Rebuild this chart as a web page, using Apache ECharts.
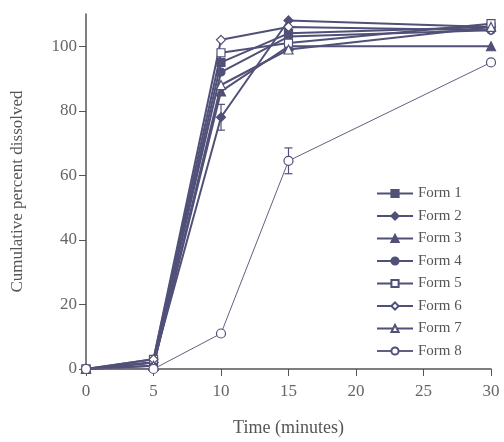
<!DOCTYPE html>
<html><head><meta charset="utf-8">
<script src="https://cdn.jsdelivr.net/npm/echarts@6/dist/echarts.min.js"></script>
<style>html,body{margin:0;padding:0;background:#fff}#c{width:504px;height:442px}</style>
</head><body><div id="c"></div>
<script>
const times = [0, 5, 10, 15, 30];
const xTicks = [0, 5, 10, 15, 20, 25, 30];
const yTicks = [0, 20, 40, 60, 80, 100];
const seriesNames = ['Form 1','Form 2','Form 3','Form 4','Form 5','Form 6','Form 7','Form 8'];
const form1 = [0, 2, 95, 104, 106];
const form2 = [0, 2, 78, 108, 106];
const form3 = [0, 1, 86, 100, 100];
const form4 = [0, 2, 92, 103, 105];
const form5 = [0, 3, 98, 101, 107];
const form6 = [0, 3, 102, 106, 105];
const form7 = [0, 1, 88, 99, 106];
const form8 = [0, 0, 11, 64.5, 95];
// error bars: [time, value, sd]
const errorBars = [[10, 78, 4], [15, 64.5, 4]];

const C = '#505078';
const symbols = ['rect','diamond','triangle','circle','rect','diamond','triangle','circle'];
const filled = [true,true,true,true,false,false,false,false];
const sizes = [8,9,9,8,8,9,9,9];
const allData = [form1,form2,form3,form4,form5,form6,form7,form8];

const series = allData.map((d, i) => ({
  name: seriesNames[i], type: 'line',
  data: d.map((v, j) => [times[j], v]),
  symbol: symbols[i], symbolSize: sizes[i],
  lineStyle: {color: i === 7 ? '#606080' : C, width: i === 7 ? 1 : 2},
  itemStyle: {color: filled[i] ? C : '#fff', borderColor: C, borderWidth: 1.2},
  z: i === 7 ? 3 : 2
}));
series.push({
  type: 'custom', name: 'err', silent: true, z: 1,
  data: errorBars,
  renderItem: function (params, api) {
    const x = api.value(0), v = api.value(1), s = api.value(2);
    const hi = api.coord([x, v + s]), lo = api.coord([x, v - s]);
    const w = 4;
    const st = {stroke: C, lineWidth: 1.2};
    return {type: 'group', children: [
      {type: 'line', shape: {x1: hi[0], y1: hi[1], x2: lo[0], y2: lo[1]}, style: st},
      {type: 'line', shape: {x1: hi[0]-w, y1: hi[1], x2: hi[0]+w, y2: hi[1]}, style: st},
      {type: 'line', shape: {x1: lo[0]-w, y1: lo[1], x2: lo[0]+w, y2: lo[1]}, style: st}
    ]};
  }
});

const font = '"Liberation Serif", "DejaVu Serif", serif';
const chart = echarts.init(document.getElementById('c'), null, {renderer: 'canvas'});
chart.setOption({
  backgroundColor: '#fff',
  animation: false,
  grid: {left: 86, right: 13, top: 14, bottom: 71, containLabel: false},
  legend: {
    data: seriesNames, orient: 'vertical', left: 371, top: 181,
    itemWidth: 36, itemHeight: 9, itemGap: 7.5,
    textStyle: {fontFamily: font, fontSize: 15, color: '#555'}
  },
  xAxis: {
    type: 'value', min: 0, max: 30, interval: 5,
    name: 'Time (minutes)', nameLocation: 'middle', nameGap: 50,
    nameTextStyle: {fontFamily: font, fontSize: 18, color: '#555'},
    axisLine: {lineStyle: {color: '#555', width: 1.5}},
    axisTick: {length: 7, lineStyle: {color: '#555'}, customValues: xTicks},
    axisLabel: {fontFamily: font, fontSize: 17, color: '#666', margin: 14, customValues: xTicks},
    splitLine: {show: false}
  },
  yAxis: {
    type: 'value', min: 0, max: 110,
    name: 'Cumulative percent dissolved', nameLocation: 'middle', nameGap: 60,
    nameTextStyle: {fontFamily: font, fontSize: 17, color: '#555'},
    axisLine: {show: true, lineStyle: {color: '#555', width: 1.5}},
    axisTick: {show: true, length: 7, lineStyle: {color: '#555'}, customValues: yTicks},
    axisLabel: {fontFamily: font, fontSize: 17, color: '#666', margin: 9, customValues: yTicks},
    splitLine: {show: false}
  },
  series: series
});
</script></body></html>
